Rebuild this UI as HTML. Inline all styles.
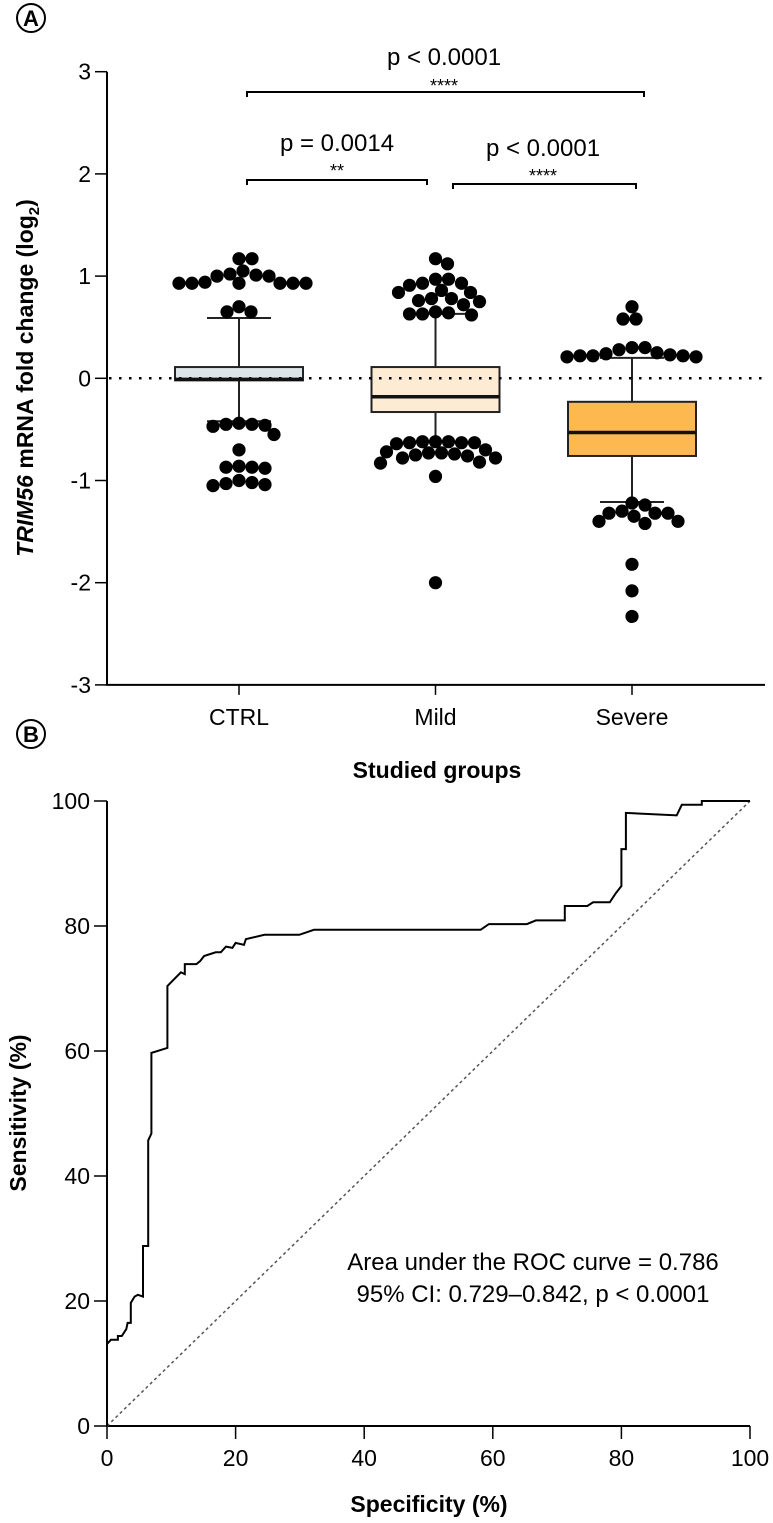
<!DOCTYPE html>
<html><head><meta charset="utf-8"><style>
body{margin:0;background:#fff;}
svg text{font-family:"Liberation Sans",Arial,sans-serif;fill:#000;}
</style></head><body>
<svg id="fig" width="773" height="1518" viewBox="0 0 773 1518" xmlns="http://www.w3.org/2000/svg">
<g><circle cx="31" cy="18" r="14" fill="none" stroke="#000" stroke-width="2"/><text x="31" y="26" text-anchor="middle" font-size="22" font-weight="bold">A</text></g>
<g><circle cx="31" cy="734" r="14" fill="none" stroke="#000" stroke-width="2"/><text x="31" y="742" text-anchor="middle" font-size="22" font-weight="bold">B</text></g>
<g id="pa"></g>
<g id="pb"></g>
</svg>
<script>
// ---------- Panel A data ----------
const categories = ["CTRL","Mild","Severe"];
const boxQ1 = [-0.02,-0.33,-0.76];
const boxMedian = [-0.01,-0.18,-0.53];
const boxQ3 = [0.11,0.11,-0.23];
const whiskerLow = [-0.42,-0.62,-1.21];
const whiskerHigh = [0.59,0.63,0.20];
const ctrlPoints = [1.17,1.17,1.02,1.0,1.01,1.05,1.0,0.93,0.93,0.94,0.93,0.93,0.93,0.93,0.70,0.65,0.65,
  -0.45,-0.45,-0.46,-0.44,-0.47,-0.55,-0.70,-0.87,-0.87,-0.88,-0.86,-1.02,-1.04,-1.05,-1.03,-1.0];
const mildPoints = [1.17,1.12,0.97,0.97,0.93,0.93,0.91,0.86,0.84,0.84,0.78,0.78,0.76,0.75,0.72,0.65,0.64,0.63,0.63,0.62,
  -0.62,-0.62,-0.63,-0.63,-0.62,-0.64,-0.63,-0.70,-0.72,-0.73,-0.73,-0.74,-0.75,-0.76,-0.78,-0.78,-0.82,-0.83,-0.96,-2.0];
const severePoints = [0.70,0.58,0.58,0.30,0.28,0.25,0.22,0.21,0.22,0.21,0.22,0.23,0.30,0.24,
  -1.22,-1.24,-1.30,-1.32,-1.32,-1.35,-1.40,-1.42,-1.40,-1.32,-1.82,-2.08,-2.33];
const yTicksA = [3,2,1,0,-1,-2,-3];
const yTickLabelsA = ["3","2","1","0","-1","-2","-3"];
const boxColors = ["#dde5e8","#fdebd4","#fdb84f"];
// ---------- Panel B data ----------
const rocSpec = [0,0,0.6,1.7,1.7,2.3,3.0,3.2,3.7,3.7,4.3,4.8,5.6,5.6,6.4,6.4,6.9,6.9,9.4,9.4,11.5,12.1,12.1,13.9,14.5,15.1,16.9,17.7,18.5,19.5,20,21.3,21.6,24.5,29.9,32.2,58.1,59.4,65.3,66.7,71.2,71.2,74.7,75.6,78.2,79.1,80.0,80.0,80.7,80.7,88.6,89.4,92.5,92.5,100];
const rocSens = [0,13.1,13.8,13.8,14.4,14.4,15.5,16.5,16.5,19.7,20.7,21.0,20.7,28.8,28.8,45.7,46.8,59.7,60.5,70.4,72.6,72.3,73.9,73.9,74.4,75.2,75.8,75.8,76.7,76.5,77.3,77.0,77.9,78.6,78.6,79.4,79.4,80.3,80.3,80.9,80.9,83.2,83.2,83.8,83.8,85.2,86.4,92.3,92.3,98.1,97.7,99.4,99.4,100,100];
const xTicksB = [0,20,40,60,80,100];
const yTicksB = [0,20,40,60,80,100];

const NS="http://www.w3.org/2000/svg";
function mk(parent,tag,attrs,text){const e=document.createElementNS(NS,tag);for(const k in attrs)e.setAttribute(k,attrs[k]);if(text!==undefined)e.textContent=text;parent.appendChild(e);return e;}

// ----- Panel A -----
const pa=document.getElementById('pa');
const yA=v=>378.3-v*102.2;
const xA=i=>239+i*196.5;
const ax1=mk(pa,'line',{x1:107,y1:yA(3),x2:107,y2:yA(-3),stroke:'#000','stroke-width':2});


const ax2=mk(pa,'line',{x1:106,y1:yA(-3),x2:765,y2:yA(-3),stroke:'#000','stroke-width':2});


yTicksA.forEach((v,i)=>{
  const t=mk(pa,'line',{x1:95,y1:yA(v),x2:107,y2:yA(v),stroke:'#000','stroke-width':1.5});
  
  
  const l=mk(pa,'text',{x:91,y:yA(v)+8,'text-anchor':'end','font-size':23},yTickLabelsA[i]);
  
  
});
categories.forEach((c,i)=>{
  const t=mk(pa,'line',{x1:xA(i),y1:yA(-3),x2:xA(i),y2:yA(-3)+10,stroke:'#000','stroke-width':1.5});
  
  
  const l=mk(pa,'text',{x:xA(i),y:725,'text-anchor':'middle','font-size':23},c);
  
  
});
const xt=mk(pa,'text',{x:437,y:778,'text-anchor':'middle','font-size':23,'font-weight':'bold'},'Studied groups');


const yt=mk(pa,'text',{transform:'translate(33,378) rotate(-90)','text-anchor':'middle','font-size':23,'font-weight':'bold'});


mk(yt,'tspan',{'font-style':'italic'},'TRIM56');
mk(yt,'tspan',{},' mRNA fold change (log');
mk(yt,'tspan',{'font-size':15,dy:6},'2');
mk(yt,'tspan',{dy:-6},')');

// boxes
categories.forEach((c,i)=>{
  const g=mk(pa,'g',{});
  
  
  const x=xA(i);
  mk(g,'line',{x1:x,y1:yA(whiskerHigh[i]),x2:x,y2:yA(boxQ3[i]),stroke:'#222','stroke-width':2});
  mk(g,'line',{x1:x,y1:yA(whiskerLow[i]),x2:x,y2:yA(boxQ1[i]),stroke:'#222','stroke-width':2});
  mk(g,'line',{x1:x-32,y1:yA(whiskerHigh[i]),x2:x+32,y2:yA(whiskerHigh[i]),stroke:'#222','stroke-width':2});
  mk(g,'line',{x1:x-32,y1:yA(whiskerLow[i]),x2:x+32,y2:yA(whiskerLow[i]),stroke:'#222','stroke-width':2});
  mk(g,'rect',{x:x-64,y:yA(boxQ3[i]),width:128,height:yA(boxQ1[i])-yA(boxQ3[i]),fill:boxColors[i],stroke:'#222','stroke-width':2});
});
// zero dotted line
const zl=mk(pa,'line',{x1:109,y1:yA(0),x2:765,y2:yA(0),stroke:'#000','stroke-width':2.5,'stroke-dasharray':'2.5 7.5'});


categories.forEach((c,i)=>{
  const m=mk(pa,'line',{x1:xA(i)-64,y1:yA(boxMedian[i]),x2:xA(i)+64,y2:yA(boxMedian[i]),stroke:'#111','stroke-width':3.5});
  
  
});
// beeswarm points
const R=6.6;
[ctrlPoints,mildPoints,severePoints].forEach((pts,gi)=>{
  const placed=[];
  const sorted=pts.slice().sort((a,b)=>b-a);
  sorted.forEach(v=>{
    const y=yA(v);let best=null;
    for(let k=0;k<200;k++){
      const off=(k%2?1:-1)*Math.ceil(k/2)*1;
      const x=xA(gi)+off;
      if(placed.every(p=>Math.hypot(p[0]-x,p[1]-y)>=2*R-0.5)){best=x;break;}
    }
    placed.push([best,y]);
    const c=mk(pa,'circle',{cx:best,cy:y,r:R,fill:'#000'});
    
    
  });
});
// significance brackets
function bracket(x1,x2,y,label,stars,lx,ly,sy,name){
  const g=mk(pa,'g',{});
  
  
  mk(g,'path',{d:`M${x1},${y+5}V${y}H${x2}V${y+5}`,fill:'none',stroke:'#000','stroke-width':2});
  mk(g,'text',{x:lx,y:ly+8,'text-anchor':'middle','font-size':24},label);
  mk(g,'text',{x:lx,y:sy+9,'text-anchor':'middle','font-size':18},stars);
}
bracket(247,644,92,'p < 0.0001','****',444,57,83,'bracket-ctrl-severe');
bracket(247,427,180,'p = 0.0014','**',337,143,168,'bracket-ctrl-mild');
bracket(453,636,184,'p < 0.0001','****',543,148,173,'bracket-mild-severe');

// ----- Panel B -----
const pb=document.getElementById('pb');
const xB=v=>107+v*6.43;
const yB=v=>1426-v*6.25;
const bx=mk(pb,'line',{x1:107,y1:yB(100),x2:107,y2:yB(0),stroke:'#000','stroke-width':2});


const by=mk(pb,'line',{x1:106,y1:yB(0),x2:xB(100),y2:yB(0),stroke:'#000','stroke-width':2});


yTicksB.forEach(v=>{
  const t=mk(pb,'line',{x1:94,y1:yB(v),x2:107,y2:yB(v),stroke:'#000','stroke-width':1.5});
  
  
  const l=mk(pb,'text',{x:90,y:yB(v)+8,'text-anchor':'end','font-size':23},String(v));
  
  
});
xTicksB.forEach(v=>{
  const t=mk(pb,'line',{x1:xB(v),y1:yB(0),x2:xB(v),y2:yB(0)+13,stroke:'#000','stroke-width':1.5});
  
  
  const l=mk(pb,'text',{x:xB(v),y:1466,'text-anchor':'middle','font-size':23},String(v));
  
  
});
const bxt=mk(pb,'text',{x:429,y:1512,'text-anchor':'middle','font-size':23,'font-weight':'bold'},'Specificity (%)');


const byt=mk(pb,'text',{transform:'translate(26,1113) rotate(-90)','text-anchor':'middle','font-size':23,'font-weight':'bold'},'Sensitivity (%)');


const diag=mk(pb,'line',{x1:xB(0),y1:yB(0),x2:xB(100),y2:yB(100),stroke:'#555','stroke-width':1.5,'stroke-dasharray':'3 3'});


const d=rocSpec.map((s,i)=>(i?'L':'M')+xB(s).toFixed(1)+','+yB(rocSens[i]).toFixed(1)).join('');
const roc=mk(pb,'path',{d:d,fill:'none',stroke:'#000','stroke-width':2});


const a1=mk(pb,'text',{x:533,y:1270,'text-anchor':'middle','font-size':24},'Area under the ROC curve = 0.786');


const a2=mk(pb,'text',{x:533,y:1302,'text-anchor':'middle','font-size':24},'95% CI: 0.729–0.842, p < 0.0001');


</script>
</body></html>
